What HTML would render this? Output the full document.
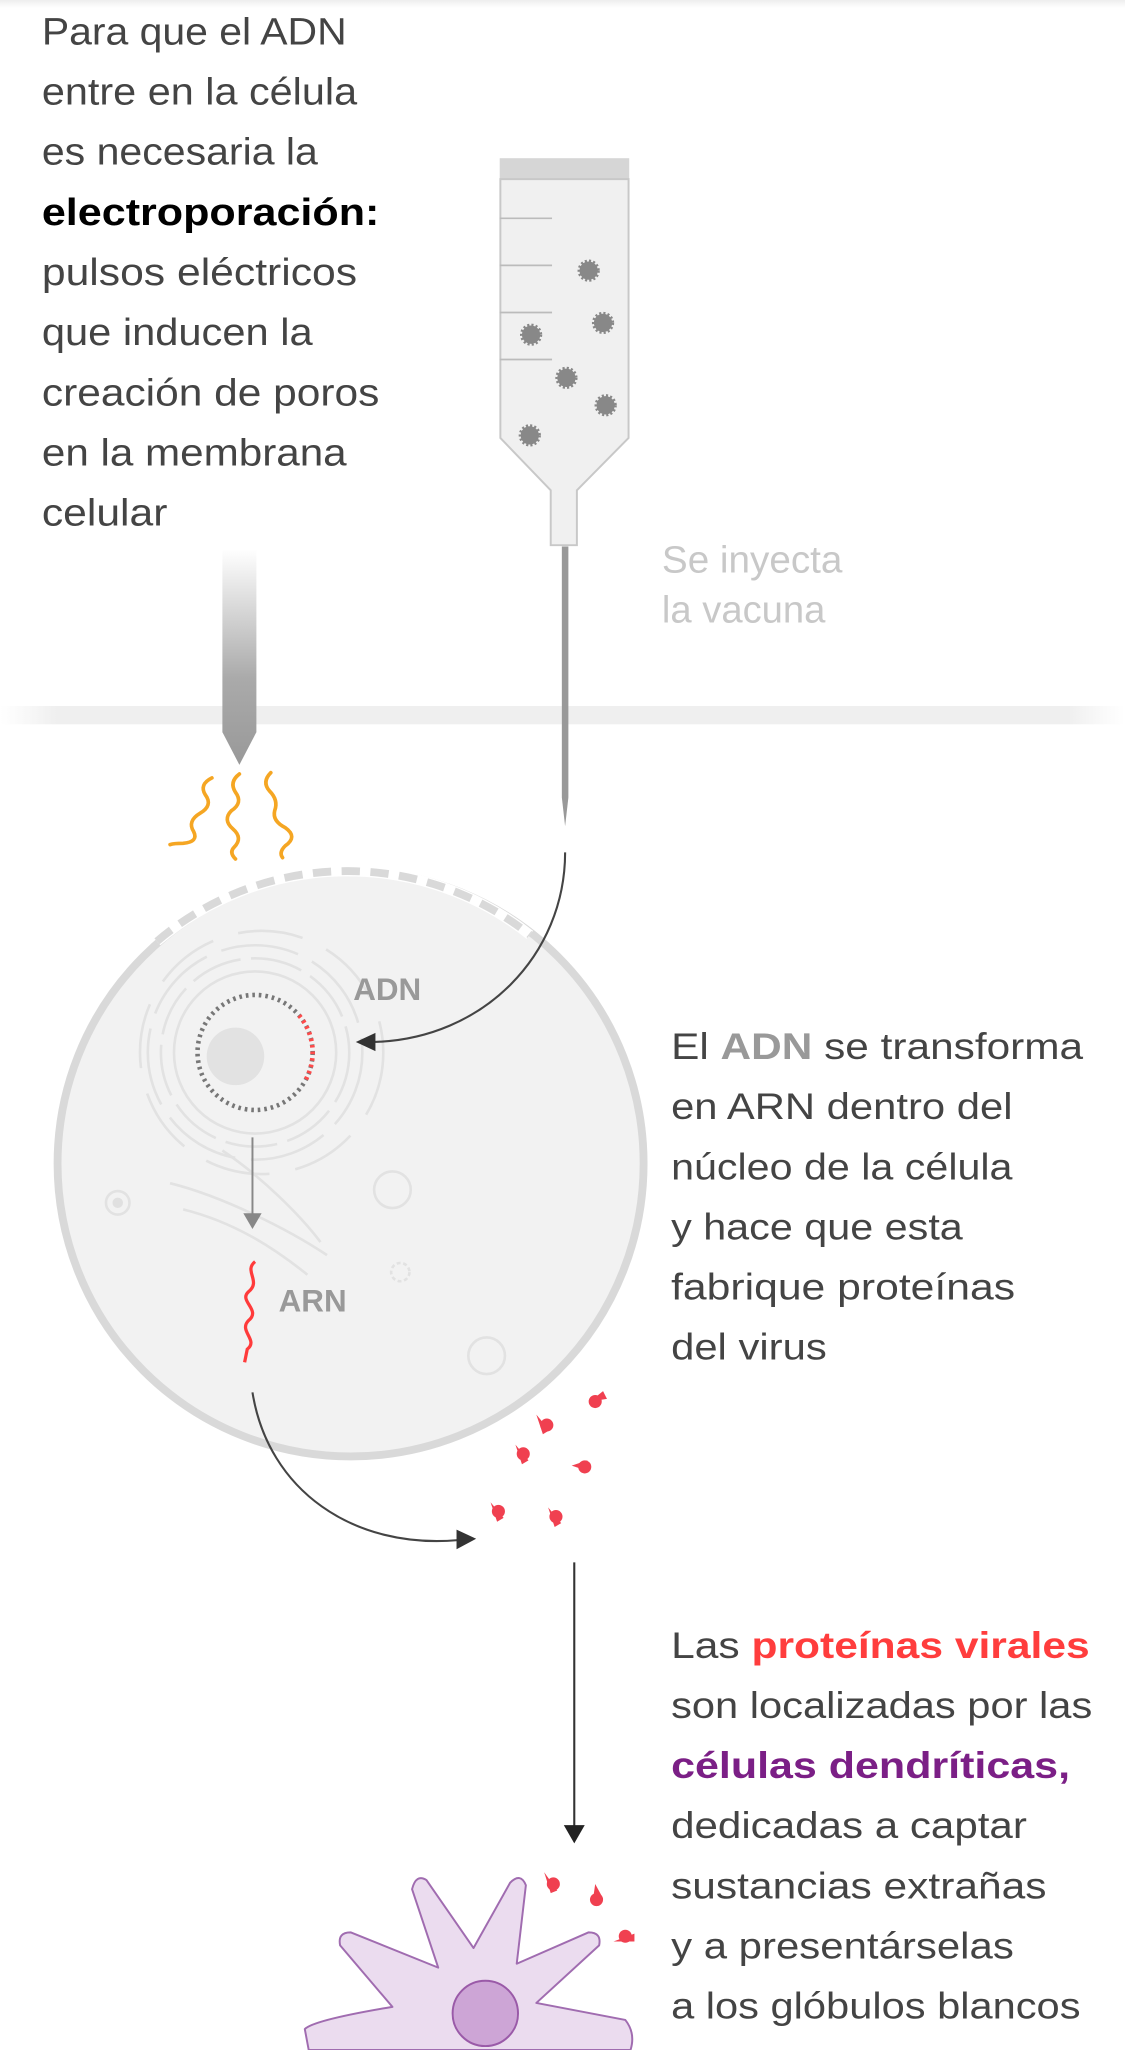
<!DOCTYPE html>
<html><head><meta charset="utf-8"><style>
html,body{margin:0;padding:0;background:#fff;}
svg{display:block}
</style></head><body>
<svg width="1125" height="2050" viewBox="0 0 860 1568" preserveAspectRatio="none" xmlns="http://www.w3.org/2000/svg">
<defs>
<linearGradient id="band" x1="0" x2="1" y1="0" y2="0">
<stop offset="0" stop-color="#f2f2f2" stop-opacity="0"/><stop offset="0.05" stop-color="#efefef"/><stop offset="0.95" stop-color="#efefef"/><stop offset="1" stop-color="#f2f2f2" stop-opacity="0"/></linearGradient>
<linearGradient id="elec" x1="0" x2="0" y1="0" y2="1">
<stop offset="0" stop-color="#fff"/><stop offset="0.6" stop-color="#aaa"/><stop offset="1" stop-color="#999"/></linearGradient>
<linearGradient id="top" x1="0" x2="0" y1="0" y2="1"><stop offset="0" stop-color="#eee"/><stop offset="1" stop-color="#fff"/></linearGradient>
</defs>
<rect x="0" y="0" width="860" height="6" fill="url(#top)"/>
<g font-family="Liberation Sans, sans-serif" font-size="29" fill="#444">
<text x="32" y="34" textLength="233" lengthAdjust="spacingAndGlyphs">Para que el ADN</text>
<text x="32" y="80" textLength="241" lengthAdjust="spacingAndGlyphs">entre en la célula</text>
<text x="32" y="126" textLength="211" lengthAdjust="spacingAndGlyphs">es necesaria la</text>
<text x="32" y="172" textLength="258" lengthAdjust="spacingAndGlyphs" font-weight="bold" fill="#000">electroporación:</text>
<text x="32" y="218" textLength="241" lengthAdjust="spacingAndGlyphs">pulsos eléctricos</text>
<text x="32" y="264" textLength="207" lengthAdjust="spacingAndGlyphs">que inducen la</text>
<text x="32" y="310" textLength="258" lengthAdjust="spacingAndGlyphs">creación de poros</text>
<text x="32" y="356" textLength="233" lengthAdjust="spacingAndGlyphs">en la membrana</text>
<text x="32" y="402" textLength="96" lengthAdjust="spacingAndGlyphs">celular</text>
<text x="506" y="438" textLength="138" lengthAdjust="spacingAndGlyphs" fill="#c8c8c8">Se inyecta</text>
<text x="506" y="476" textLength="125" lengthAdjust="spacingAndGlyphs" fill="#c8c8c8">la vacuna</text>
</g>
<rect x="0" y="540" width="860" height="14" fill="url(#band)"/>
<rect x="382" y="121" width="99" height="16" fill="#d6d6d6"/>
<path d="M382.5 137 V335 L421 375 V417 H441 V375 L480.5 335 V137 Z" fill="#f0f0f0" stroke="#c8c8c8" stroke-width="1.5"/>
<g stroke="#bbb" stroke-width="1.3"><line x1="382" y1="167" x2="422" y2="167"/><line x1="382" y1="203" x2="422" y2="203"/><line x1="382" y1="239" x2="422" y2="239"/><line x1="382" y1="275" x2="422" y2="275"/></g>
<g fill="#888" stroke="#888" stroke-width="3" stroke-dasharray="1.5 1.5">
<circle cx="450" cy="207" r="7"/><circle cx="461" cy="247" r="7"/><circle cx="406" cy="256" r="7"/><circle cx="433" cy="289" r="7"/><circle cx="463" cy="310" r="7"/><circle cx="405" cy="333" r="7"/></g>
<path d="M429.5 418 H434.5 V610 L432 632 L429.5 610 Z" fill="#999"/>
<path d="M170 420 H196 V560 L183 585 L170 560 Z" fill="url(#elec)"/>
<g fill="none" stroke="#f5a623" stroke-width="2.8" stroke-linecap="round">
<path d="M162 595 Q152 600 157 608 Q163 616 153 622 Q143 628 148 636 Q152 644 140 645 Q133 645 130 646"/>
<path d="M183 592 Q175 598 180 606 Q186 614 177 620 Q170 627 178 634 Q186 641 179 648 Q175 652 180 657"/>
<path d="M207 591 Q200 598 206 605 Q213 612 210 620 Q208 628 218 633 Q228 640 218 647 Q213 652 216 656"/>
</g>
<circle cx="268" cy="890" r="224" fill="#f2f2f2" stroke="#d9d9d9" stroke-width="6"/>
<path d="M120 720 A224 224 0 0 1 405 715" fill="none" stroke="#fff" stroke-width="8"/>
<path d="M120 720 A224 224 0 0 1 405 715" fill="none" stroke="#d9d9d9" stroke-width="6" stroke-dasharray="14 8"/>
<g fill="none" stroke="#e2e2e2" stroke-width="2">
<circle cx="195" cy="805" r="62"/><circle cx="195" cy="805" r="72" stroke-dasharray="40 8"/>
<circle cx="195" cy="805" r="82" stroke-dasharray="60 12"/><circle cx="200" cy="805" r="93" stroke-dasharray="50 20"/>
<path d="M130 905 C170 915 220 940 250 960" /><path d="M140 925 C180 935 210 955 235 975"/><path d="M170 880 C200 900 230 930 245 950"/>
<circle cx="90" cy="920" r="9"/><circle cx="300" cy="910" r="14"/><circle cx="372" cy="1037" r="14"/><circle cx="306" cy="973" r="7" stroke-dasharray="3 2"/>
</g>
<circle cx="90" cy="920" r="4" fill="#e0e0e0"/>
<circle cx="180" cy="808" r="22" fill="#e2e2e2"/>
<circle cx="195" cy="805" r="44" fill="none" stroke="#777" stroke-width="3.5" stroke-dasharray="2 3"/>
<circle cx="195" cy="805" r="44" fill="none" stroke="#ff4a4a" stroke-width="3.5" stroke-dasharray="2 3 2 3 2 3 2 3 2 3 2 3 2 3 2 3 2 3 2 3 2 3 0 300" transform="rotate(-40 195 805)"/>
<text x="270" y="765" font-family="Liberation Sans, sans-serif" font-weight="bold" font-size="24" fill="#999">ADN</text>
<path d="M432 652 C432 730 370 795 285 797" fill="none" stroke="#444" stroke-width="1.6"/>
<path d="M272 797 L287 790 L287 804 Z" fill="#333"/>
<line x1="193" y1="870" x2="193" y2="930" stroke="#888" stroke-width="1.5"/>
<path d="M186 928 H200 L193 940 Z" fill="#888"/>
<path d="M195 965 C186 972 200 980 190 988 C182 995 200 1002 190 1010 C182 1018 198 1025 189 1032 L187 1042" fill="none" stroke="#ff3b3b" stroke-width="2.5"/>
<text x="213" y="1003" font-family="Liberation Sans, sans-serif" font-weight="bold" font-size="24" fill="#999">ARN</text>
<path d="M193 1065 C205 1140 270 1185 350 1178" fill="none" stroke="#444" stroke-width="1.6"/>
<path d="M364 1177 L349 1170 L349 1185 Z" fill="#333"/>
<g fill="#f04050">
<path d="M451 1072 l10 -8 l3 6 z"/><circle cx="455" cy="1072" r="5"/>
<circle cx="418" cy="1090" r="5"/><path d="M410 1082 l10 12 l-5 3z"/>
<circle cx="400" cy="1112" r="5"/><path d="M394 1105 l10 12 l-5 3z"/>
<circle cx="447" cy="1122" r="5"/><path d="M437 1121 l12 -4 v8z"/>
<circle cx="381" cy="1156" r="5"/><path d="M375 1149 l10 12 l-5 3z"/>
<circle cx="425" cy="1160" r="5"/><path d="M419 1153 l10 12 l-5 3z"/>
<circle cx="423" cy="1441" r="5"/><path d="M416 1432 l10 14 l-5 2z"/>
<circle cx="456" cy="1453" r="5"/><path d="M455 1441 l6 11 l-8 3z"/>
<circle cx="478" cy="1481" r="5"/><path d="M469 1485 l16 -6 v6z"/>
</g>
<line x1="439" y1="1195" x2="439" y2="1398" stroke="#333" stroke-width="1.6"/>
<path d="M431 1396 H447 L439 1410 Z" fill="#222"/>
<path d="M236 1568 L233 1552 Q240 1545 300 1535 L260 1488 Q258 1478 268 1478 L335 1505 L315 1445 Q318 1433 326 1438 L362 1490 L390 1440 Q398 1432 402 1442 L395 1502 L450 1478 Q460 1478 458 1488 L410 1532 L478 1545 Q486 1555 482 1568 Z" fill="#ebdcef" stroke="#a06cb0" stroke-width="1.5" stroke-linejoin="round"/>
<circle cx="371" cy="1540" r="25" fill="#cda5d6" stroke="#9a5aa8" stroke-width="1.5"/>
<g font-family="Liberation Sans, sans-serif" font-size="28" fill="#444">
<text x="513" y="810" textLength="315" lengthAdjust="spacingAndGlyphs">El <tspan font-weight="bold" fill="#999">ADN</tspan> se transforma</text>
<text x="513" y="856" textLength="261" lengthAdjust="spacingAndGlyphs">en ARN dentro del</text>
<text x="513" y="902" textLength="261" lengthAdjust="spacingAndGlyphs">núcleo de la célula</text>
<text x="513" y="948" textLength="223" lengthAdjust="spacingAndGlyphs">y hace que esta</text>
<text x="513" y="994" textLength="263" lengthAdjust="spacingAndGlyphs">fabrique proteínas</text>
<text x="513" y="1040" textLength="119" lengthAdjust="spacingAndGlyphs">del virus</text>
<text x="513" y="1268" textLength="320" lengthAdjust="spacingAndGlyphs">Las <tspan font-weight="bold" fill="#ff3d3d">proteínas virales</tspan></text>
<text x="513" y="1314" textLength="322" lengthAdjust="spacingAndGlyphs">son localizadas por las</text>
<text x="513" y="1360" textLength="305" lengthAdjust="spacingAndGlyphs" font-weight="bold" fill="#7b1f86">células dendríticas,</text>
<text x="513" y="1406" textLength="272" lengthAdjust="spacingAndGlyphs">dedicadas a captar</text>
<text x="513" y="1452" textLength="287" lengthAdjust="spacingAndGlyphs">sustancias extrañas</text>
<text x="513" y="1498" textLength="262" lengthAdjust="spacingAndGlyphs">y a presentárselas</text>
<text x="513" y="1544" textLength="313" lengthAdjust="spacingAndGlyphs">a los glóbulos blancos</text>
</g>
</svg>
</body></html>
